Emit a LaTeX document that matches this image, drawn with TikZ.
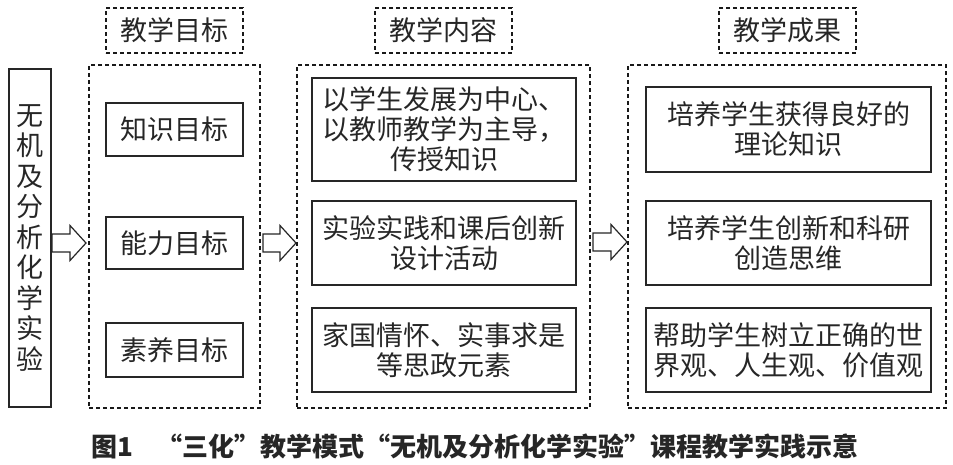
\documentclass[tikz,border=0pt]{standalone}
\usepackage{fontspec}
\newfontfamily\cjk{Noto Sans CJK SC}
\usetikzlibrary{calc}
\newcommand\hollowarrow[2]{%
  \draw[arrowline] ($(#1)+(0,-9)$) -- ($(#2)+(-16,-9)$) -- ($(#2)+(-16,-17.5)$) -- (#2)
    -- ($(#2)+(-16,17.5)$) -- ($(#2)+(-16,9)$) -- ($(#1)+(0,9)$) -- cycle;}
\begin{document}
\begin{tikzpicture}[x=1pt,y=-1pt,
  solidbox/.style={draw=black!85, line width=1.2pt, inner sep=0pt, align=center,
    font=\fontsize{27}{30}\selectfont\cjk, text=black!85},
  dashbox/.style={draw=black!90, line width=1.05pt, dash pattern=on 4pt off 3pt, inner sep=0pt},
  titlebox/.style={dashbox, font=\fontsize{27}{30}\selectfont\cjk, text=black!85},
  arrowline/.style={draw=black!85, line width=1.2pt, fill=white, line join=miter}]
\useasboundingbox (0,0) rectangle (953,464);
% left box
\node[solidbox, minimum width=42pt, minimum height=338pt, font=\fontsize{27}{30.5}\selectfont\cjk] (L) at (30,238)
  {无\\机\\及\\分\\析\\化\\学\\实\\验};
% column 1
\node[titlebox, minimum width=137pt, minimum height=45pt] (T1) at (174.5,30.5) {教学目标};
\node[dashbox, minimum width=171pt, minimum height=343pt] (F1) at (174.5,236.5) {};
\node[solidbox, minimum width=137pt, minimum height=53pt] (k1) at (174.5,129.5) {知识目标};
\node[solidbox, minimum width=137pt, minimum height=52pt] (k2) at (174.5,243) {能力目标};
\node[solidbox, minimum width=137pt, minimum height=54pt] (k3) at (174.5,350) {素养目标};
% column 2
\node[titlebox, minimum width=137pt, minimum height=45pt] (T2) at (443.5,30.5) {教学内容};
\node[dashbox, minimum width=293pt, minimum height=343pt] (F2) at (443.5,236.5) {};
\node[solidbox, minimum width=264pt, minimum height=103pt] (c1) at (444,129.5)
  {以学生发展为中心、\\以教师教学为主导，\\传授知识};
\node[solidbox, minimum width=264pt, minimum height=84pt] (c2) at (444,243)
  {实验实践和课后创新\\设计活动};
\node[solidbox, minimum width=264pt, minimum height=84pt] (c3) at (444,350)
  {家国情怀、实事求是\\等思政元素};
% column 3
\node[titlebox, minimum width=137pt, minimum height=45pt] (T3) at (787.5,30.5) {教学成果};
\node[dashbox, minimum width=318pt, minimum height=343pt] (F3) at (787,236.5) {};
\node[solidbox, minimum width=285pt, minimum height=85pt] (r1) at (788.5,129.5)
  {培养学生获得良好的\\理论知识};
\node[solidbox, minimum width=285pt, minimum height=84pt] (r2) at (788.5,243)
  {培养学生创新和科研\\创造思维};
\node[solidbox, minimum width=285pt, minimum height=84pt] (r3) at (788.5,350)
  {帮助学生树立正确的世\\界观、人生观、价值观};
% arrows
\coordinate (a1s) at (52,243);  \coordinate (a1t) at (86,243);
\coordinate (a2s) at (263,243); \coordinate (a2t) at (296,243);
\coordinate (a3s) at (593,242); \coordinate (a3t) at (627,242);
\hollowarrow{a1s}{a1t}
\hollowarrow{a2s}{a2t}
\hollowarrow{a3s}{a3t}
% caption
\node[font=\fontsize{26}{28}\selectfont\cjk\bfseries, text=black!85] (cap) at (475,446)
  {图1\hspace{0.9em}“三化”教学模式“无机及分析化学实验”课程教学实践示意};
\end{tikzpicture}
\end{document}
